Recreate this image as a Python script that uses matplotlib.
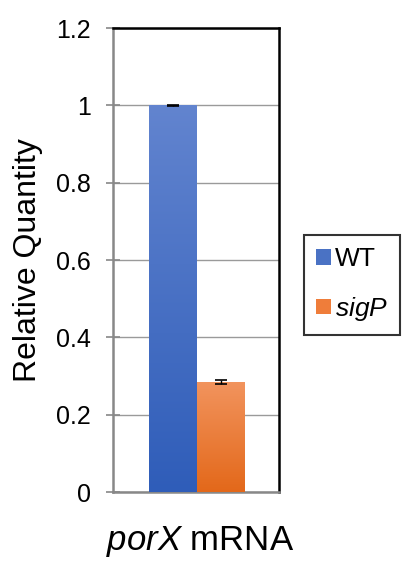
import matplotlib
matplotlib.use("Agg")
import matplotlib.pyplot as plt
import numpy as np
from matplotlib.patches import Patch
from matplotlib.colors import LinearSegmentedColormap

plt.rcParams['font.family'] = ['Liberation Sans', 'DejaVu Sans']
plt.rcParams['mathtext.fontset'] = 'custom'
plt.rcParams['mathtext.it'] = 'Liberation Sans:italic'
plt.rcParams['mathtext.rm'] = 'Liberation Sans'

groups = ["WT", "sigP"]
values = [1.0, 0.285]
errors = [0.002, 0.005]
yticks = [0, 0.2, 0.4, 0.6, 0.8, 1, 1.2]
ytick_labels = ["0", "0.2", "0.4", "0.6", "0.8", "1", "1.2"]
top_colors = ["#6284cf", "#f2945e"]
bottom_colors = ["#2f5db9", "#e3681a"]
mid_colors = ["#4a72c4", "#ef7d3a"]

fig = plt.figure(figsize=(4.06, 5.62), dpi=100)
ax = fig.add_axes([113/406, 1-492/562, 166/406, 464/562])

x = np.arange(len(groups))
width = 1.0
bars = ax.bar(x, values, width=width, color='none', edgecolor='none', zorder=3)
for b, tc, bc in zip(bars, top_colors, bottom_colors):
    cmap = LinearSegmentedColormap.from_list('g', [bc, tc])
    grad = np.linspace(0, 1, 256).reshape(-1, 1)
    x0, y0 = b.get_x(), b.get_y()
    im = ax.imshow(grad, cmap=cmap, origin='lower', aspect='auto',
                   extent=[x0, x0 + b.get_width(), y0, y0 + b.get_height()], zorder=3)
    im.set_clip_path(b)
ax.errorbar(x, values, yerr=errors, fmt='none', ecolor='black', elinewidth=1,
            capsize=4, capthick=1.2, zorder=4)

ax.set_xlim(-1.25, 2.21)
ax.set_ylim(0, 1.2)
ax.set_yticks(yticks)
ax.set_yticklabels(ytick_labels, fontsize=18)
ax.set_xticks([])
ax.yaxis.grid(True, color='#9a9a9a', linewidth=1.0, zorder=0)
ax.set_axisbelow(True)
ax.tick_params(axis='y', direction='inout', length=10, width=1.2, color='#888888', pad=11)

for side in ['top', 'right']:
    ax.spines[side].set_color('black')
    ax.spines[side].set_linewidth(1.8)
for side in ['left', 'bottom']:
    ax.spines[side].set_color('#888888')
    ax.spines[side].set_linewidth(1.8)

ax.set_ylabel("Relative Quantity", fontsize=23)
ax.yaxis.set_label_coords(-0.42, 0.5)

fig.text(200/406, 1-550/562, r"$\it{porX}$ mRNA", fontsize=25, ha='center', va='baseline')

handles = [Patch(facecolor=mid_colors[0]), Patch(facecolor=mid_colors[1])]
labels = ["WT", r"$\it{sigP}$"]
leg = fig.legend(handles, labels, loc='center', bbox_to_anchor=(352/406, 1-285/562),
                 fontsize=19, frameon=True, fancybox=False, handlelength=0.55,
                 handleheight=0.55, handletextpad=0.15, labelspacing=0.9,
                 borderpad=0.45, borderaxespad=0)
leg.get_frame().set_edgecolor('black')
leg.get_frame().set_linewidth(1.5)

fig.savefig("out.png", dpi=100)
